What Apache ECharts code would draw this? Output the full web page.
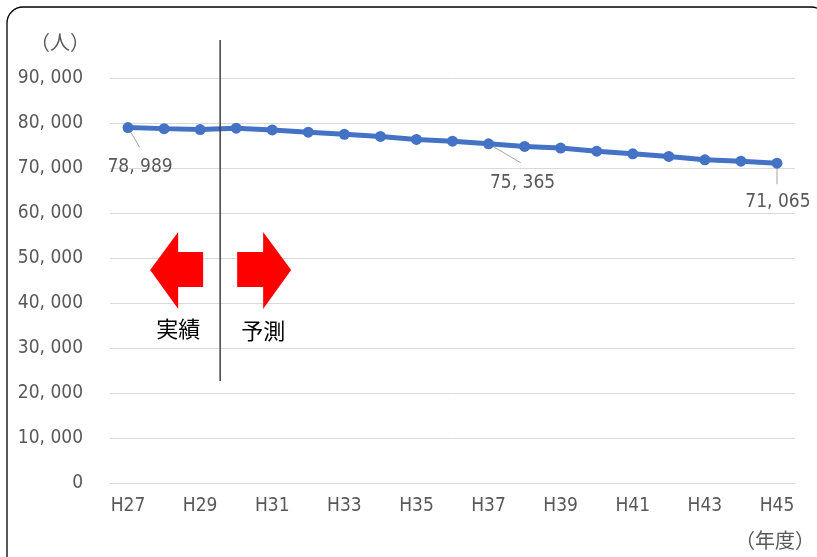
<!DOCTYPE html>
<html><head><meta charset="utf-8">
<script src="https://cdn.jsdelivr.net/npm/echarts@6/dist/echarts.min.js"></script>
<style>html,body{margin:0;padding:0;background:#fff}#c{width:817px;height:557px}</style>
</head><body><div id="c"></div>
<script>
const categories = ['H27','H28','H29','H30','H31','H32','H33','H34','H35','H36','H37','H38','H39','H40','H41','H42','H43','H44','H45'];
const population = [78989,78750,78550,78850,78450,77950,77480,77010,76340,75965,75365,74790,74430,73745,73145,72565,71810,71520,71065];
const labeledIdx = [0,10,18];
const yTicks = [0,10000,20000,30000,40000,50000,60000,70000,80000,90000];

const FONT = "'DejaVu Sans Condensed','Liberation Sans Narrow',sans-serif";
const GRAY = '#595959';
function fmt(v){ const s = String(v); if (s.length<=3) return s; return s.slice(0,s.length-3)+', '+s.slice(-3); }

const labelOffsets = {0:[12,25],10:[34,24],18:[1,24]};
const leaderEnds = {0:[11.5,19.6],10:[32.3,19],18:[0,21]};
const seriesData = population.map((v,i)=>{
  const o = {value:v};
  if (labeledIdx.includes(i)) {
    const off = labelOffsets[i];
    o.label = {show:true, position:'bottom', distance:off[1], offset:[off[0],0],
      formatter: p=>fmt(p.value), fontFamily:FONT, fontSize:19, color:GRAY};
  }
  return o;
});

const chart = echarts.init(document.getElementById('c'));
chart.setOption({
  animation:false,
  grid:{left:110, right:22, top:78, bottom:74},
  xAxis:{type:'category', data:categories, boundaryGap:true,
    axisLine:{lineStyle:{color:'#D9D9D9', width:1}}, axisTick:{show:false},
    axisLabel:{interval:1, fontFamily:FONT, fontSize:19, color:GRAY, margin:14}},
  yAxis:{type:'value', min:0, max:90000, interval:10000,
    axisLine:{show:false}, axisTick:{show:false},
    splitLine:{lineStyle:{color:'#D9D9D9', width:1}},
    axisLabel:{formatter:v=>fmt(v), fontFamily:FONT, fontSize:19, color:GRAY, margin:27}},
  series:[{type:'line', data:seriesData, symbol:'circle', symbolSize:11,
    itemStyle:{color:'#4472C4'}, lineStyle:{color:'#4472C4', width:5}, z:5}]
});

const x29 = chart.convertToPixel({xAxisIndex:0}, 'H29');
const x30 = chart.convertToPixel({xAxisIndex:0}, 'H30');
const dx = (x29 + x30)/2 + 2;
const red = '#FF0000';
const leaders = labeledIdx.map(i=>{
  const p = chart.convertToPixel({xAxisIndex:0,yAxisIndex:0}, [categories[i], population[i]]);
  const e = leaderEnds[i];
  return {type:'line', shape:{x1:p[0], y1:p[1], x2:p[0]+e[0], y2:p[1]+e[1]}, style:{stroke:'#A6A6A6', lineWidth:1}, z:1};
});
chart.setOption({graphic:[
  {type:'rect', shape:{x:7, y:7, width:820, height:570, r:16}, style:{fill:'none', stroke:'#000', lineWidth:1.3}, silent:true},
  {type:'line', shape:{x1:dx, y1:40, x2:dx, y2:381}, style:{stroke:'#404040', lineWidth:1.5}, z:10},
  {type:'polygon', shape:{points:[[dx-70,270],[dx-42,232],[dx-42,252],[dx-17,252],[dx-17,287],[dx-42,287],[dx-42,309]]}, style:{fill:red}, z:10},
  {type:'polygon', shape:{points:[[dx+71,270],[dx+43,232],[dx+43,252],[dx+17,252],[dx+17,287],[dx+43,287],[dx+43,309]]}, style:{fill:red}, z:10},
  {type:'text', x:dx-42, y:329, style:{text:'実績', font:"22px 'Noto Sans CJK JP'", fill:'#000', textAlign:'center', textVerticalAlign:'middle'}, z:10},
  {type:'text', x:dx+43, y:331, style:{text:'予測', font:"22px 'Noto Sans CJK JP'", fill:'#000', textAlign:'center', textVerticalAlign:'middle'}, z:10},
  {type:'text', x:60, y:42, style:{text:'（人）', font:"20px 'Noto Sans CJK JP'", fill:GRAY, textAlign:'center', textVerticalAlign:'middle'}},
  {type:'text', x:775, y:540, style:{text:'（年度）', font:"20px 'Noto Sans CJK JP'", fill:GRAY, textAlign:'center', textVerticalAlign:'middle'}}
].concat(leaders)});
</script></body></html>
